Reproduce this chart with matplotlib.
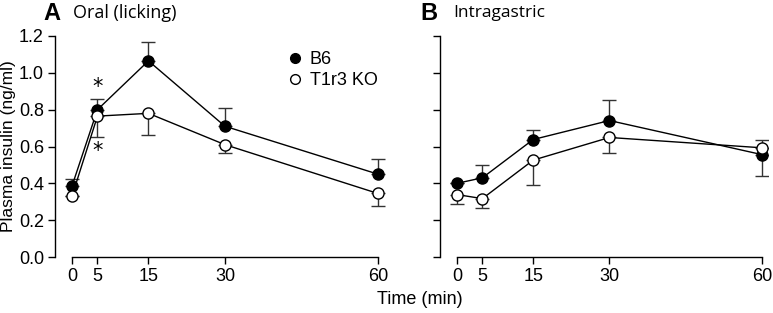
import matplotlib
matplotlib.use("Agg")
import matplotlib.pyplot as plt
import numpy as np
from matplotlib.lines import Line2D

plt.rcParams['font.family'] = ['Liberation Sans', 'DejaVu Sans']

times = [0, 5, 15, 30, 60]
tick_labels = ['0', '5', '15', '30', '60']

# Panel A: Oral (licking)
a_b6 = [0.385, 0.80, 1.065, 0.71, 0.45]
a_b6_err = [0.04, 0.06, 0.105, 0.10, 0.08]      # upward
a_ko = [0.33, 0.765, 0.78, 0.61, 0.345]
a_ko_err = [0.0, 0.115, 0.115, 0.045, 0.07]     # downward

# Panel B: Intragastric
b_b6 = [0.40, 0.43, 0.638, 0.741, 0.556]
b_b6_up = [0.0, 0.068, 0.05, 0.113, 0.0]
b_b6_dn = [0.0, 0.0, 0.0, 0.0, 0.116]
b_ko = [0.339, 0.317, 0.526, 0.649, 0.593]
b_ko_up = [0.0, 0.0, 0.0, 0.0, 0.045]
b_ko_dn = [0.049, 0.049, 0.136, 0.083, 0.0]

W, H = 773, 313
fig = plt.figure(figsize=(W/100, H/100), dpi=100)

def fx(px): return px / W
def fy(py): return 1 - py / H

axA = fig.add_axes([fx(55), fy(257), fx(385) - fx(55), fy(36) - fy(257)])
axB = fig.add_axes([fx(440), fy(257), fx(768) - fx(440), fy(36) - fy(257)])

ms = 8
ecol = '#333333'

def style(ax, xmin, xmax):
    ax.set_xlim(xmin, xmax)
    ax.set_ylim(0, 1.2)
    for s in ['top', 'right']:
        ax.spines[s].set_visible(False)
    ax.spines['left'].set_bounds(0, 1.2)
    ax.spines['bottom'].set_bounds(0, 60)
    ax.set_xticks(times)
    ax.set_xticklabels(tick_labels)
    ax.set_yticks(np.arange(0, 1.21, 0.2))
    ax.tick_params(direction='out', length=5, width=1, labelsize=13, pad=3)
    ax.spines['left'].set_linewidth(1)
    ax.spines['bottom'].set_linewidth(1)

# Panel A
zero = [0]*5
axA.errorbar(times, a_b6, yerr=[zero, a_b6_err], fmt='none', ecolor=ecol, elinewidth=1, capsize=5, capthick=1, zorder=1)
axA.errorbar(times, a_ko, yerr=[a_ko_err, zero], fmt='none', ecolor=ecol, elinewidth=1, capsize=5, capthick=1, zorder=1)
axA.plot(times, a_b6, '-o', color='black', mfc='black', mec='black', ms=ms, lw=1, zorder=3, clip_on=False)
axA.plot(times, a_ko, '-o', color='black', mfc='white', mec='black', ms=ms, lw=1, zorder=4, clip_on=False)
axA.text(5, 0.925, '*', ha='center', va='center', fontsize=15, family='DejaVu Sans')
axA.text(5, 0.575, '*', ha='center', va='center', fontsize=15, family='DejaVu Sans')
style(axA, -3.33, 61.4)
axA.set_yticklabels(['0.0', '0.2', '0.4', '0.6', '0.8', '1.0', '1.2'])
axA.set_ylabel('Plasma insulin (ng/ml)', fontsize=12.5, labelpad=2)

handles = [Line2D([], [], ls='none', marker='o', mfc='black', mec='black', ms=7),
           Line2D([], [], ls='none', marker='o', mfc='white', mec='black', ms=7)]
axA.legend(handles, ['B6', 'T1r3 KO'], loc='upper left', bbox_to_anchor=(0.695, 0.93),
           frameon=False, fontsize=13, handletextpad=0.2, labelspacing=0.2,
           handlelength=1.2, borderaxespad=0, borderpad=0)

# Panel B
axB.errorbar(times, b_b6, yerr=[b_b6_dn, b_b6_up], fmt='none', ecolor=ecol, elinewidth=1, capsize=5, capthick=1, zorder=1)
axB.errorbar(times, b_ko, yerr=[b_ko_dn, b_ko_up], fmt='none', ecolor=ecol, elinewidth=1, capsize=5, capthick=1, zorder=1)
axB.plot(times, b_b6, '-o', color='black', mfc='black', mec='black', ms=ms, lw=1, zorder=3, clip_on=False)
axB.plot(times, b_ko, '-o', color='black', mfc='white', mec='black', ms=ms, lw=1, zorder=4, clip_on=False)
style(axB, -3.34, 61.2)
axB.set_yticklabels([])

# Titles
fig.text(fx(43), fy(13), 'A', fontsize=17, fontweight='bold', va='center', ha='left')
fig.text(fx(73), fy(13), 'Oral (licking)', fontsize=13, va='center', ha='left', family=['Open Sans', 'DejaVu Sans'])
fig.text(fx(420), fy(13), 'B', fontsize=17, fontweight='bold', va='center', ha='left')
fig.text(fx(453), fy(13), 'Intragastric', fontsize=12.5, va='center', ha='left', family=['Open Sans', 'DejaVu Sans'])

fig.text(fx(420), fy(299), 'Time (min)', fontsize=13, va='center', ha='center')

fig.savefig('out.png', dpi=100)
